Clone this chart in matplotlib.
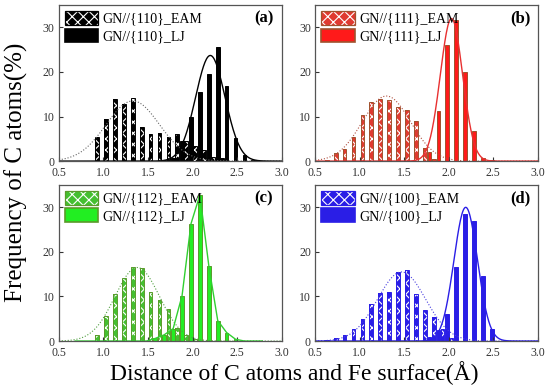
import numpy as np
import matplotlib
matplotlib.use('Agg')
import matplotlib.pyplot as plt
from matplotlib.patches import Patch
from matplotlib.legend_handler import HandlerTuple

plt.rcParams['font.family'] = ['Liberation Serif', 'DejaVu Serif']
plt.rcParams['hatch.linewidth'] = 0.8

# left edge of each 0.1 A bin
bins = [0.6, 0.7, 0.8, 0.9, 1.0, 1.1, 1.2, 1.3, 1.4, 1.5, 1.6,
        1.7, 1.8, 1.9, 2.0, 2.1, 2.2, 2.3, 2.4, 2.5, 2.6, 2.7]

# frequency (%) per bin
eam_110 = [0, 0, 0, 5.5, 9.5, 14.0, 12.8, 14.1, 7.7, 6.0, 6.4,
           5.3, 6.0, 4.5, 3.5, 2.6, 1.0, 0.6, 0, 0, 0, 0]
lj_110 = [0, 0, 0, 0, 0, 0, 0, 0, 0, 0, 0.2,
          0.8, 4.4, 10.0, 15.6, 19.6, 25.6, 16.8, 5.1, 1.3, 0.2, 0]
eam_111 = [0.3, 1.8, 2.7, 5.5, 10.3, 13.2, 13.9, 13.6, 12.1, 11.4, 9.1,
           2.9, 0.4, 0, 0, 0, 0, 0, 0, 0, 0, 0]
lj_111 = [0, 0, 0, 0, 0, 0, 0, 0, 0, 0, 0,
          2.0, 11.3, 26.0, 31.7, 20.0, 6.7, 0.8, 0.2, 0, 0, 0]
eam_112 = [0, 0, 0, 1.4, 5.7, 10.5, 14.2, 16.7, 16.3, 11.0, 9.3,
           7.2, 2.9, 1.3, 0.5, 0, 0, 0, 0, 0, 0, 0]
lj_112 = [0, 0, 0, 0, 0, 0, 0, 0, 0, 0.6, 1.4,
          2.8, 10.2, 26.3, 32.8, 16.9, 4.6, 1.9, 0.4, 0, 0, 0]
eam_100 = [0.3, 0.7, 1.3, 2.6, 5.0, 8.2, 10.8, 11.1, 15.4, 16.0, 10.6,
           6.9, 5.4, 2.8, 0.6, 0, 0, 0, 0, 0, 0, 0]
lj_100 = [0, 0, 0, 0, 0, 0, 0, 0, 0, 0, 0,
          1.0, 2.4, 6.1, 16.6, 28.4, 27.0, 14.7, 2.6, 0, 0, 0]

# gaussian fits (center, sigma, peak)
fit_eam = {'110': (1.33, 0.30, 13.5), '111': (1.30, 0.27, 14.6),
           '112': (1.38, 0.25, 16.5), '100': (1.47, 0.27, 15.5)}
fit_lj = {'110': (2.20, 0.165, 23.7), '111': (2.03, 0.125, 32.0),
          '112': None, '100': (2.19, 0.132, 30.0)}

panels = [
    ('110', '(a)', eam_110, lj_110, '#000000', '#000000', '#000000', '#000000', '#666666'),
    ('111', '(b)', eam_111, lj_111, '#e03a30', '#ff1a1a', '#a0522d', '#e83030', '#b05040'),
    ('112', '(c)', eam_112, lj_112, '#44c030', '#22ee22', '#5a9a2a', '#30d030', '#50a040'),
    ('100', '(d)', eam_100, lj_100, '#2a1ee6', '#2a1ee6', '#2a1ee6', '#2a1ee6', '#4a40e0'),
]

positions = [[0.107, 0.589], [0.573, 0.589], [0.107, 0.130], [0.573, 0.130]]

fig = plt.figure(figsize=(5.5, 3.92), dpi=100)
bw = 0.042
xb = np.array(bins)
xs = np.linspace(0.5, 3.0, 300)

for (name, tag, eam, lj, c_eam, c_lj, c_edge, c_line, c_dot), pos in zip(panels, positions):
    ax = fig.add_axes([pos[0], pos[1], 0.405, 0.398])
    # hatched EAM bars: fill + white hatch, then outline on top
    ax.bar(xb + 0.03, eam, width=bw, color=c_eam, edgecolor='white',
           hatch='xxx', linewidth=0)
    ax.bar(xb + 0.03, eam, width=bw, fill=False, edgecolor=c_edge, linewidth=0.7)
    ax.bar(xb + 0.083, lj, width=bw, color=c_lj, edgecolor=c_edge, linewidth=0.7)

    xc, s, a = fit_eam[name]
    ax.plot(xs, a * np.exp(-(xs - xc) ** 2 / (2 * s ** 2)), ':', color=c_dot, lw=0.8)
    if fit_lj[name] is None:
        ax.plot(xb + 0.083, lj, '-', color=c_line, lw=1.0)
    else:
        xc, s, a = fit_lj[name]
        ax.plot(xs, a * np.exp(-(xs - xc) ** 2 / (2 * s ** 2)), '-', color=c_line, lw=1.0)

    ax.set_xlim(0.5, 3.0)
    ax.set_ylim(0, 35)
    ax.set_xticks([0.5, 1.0, 1.5, 2.0, 2.5, 3.0])
    ax.set_yticks([0, 10, 20, 30])
    ax.tick_params(direction='in', length=3, labelsize=8.5, colors='#333333')
    ax.tick_params(axis='x', pad=4.5)
    ax.tick_params(axis='y', pad=3)
    for sp in ax.spines.values():
        sp.set_color('#555555')
        sp.set_linewidth(0.9)

    hf = Patch(facecolor=c_eam, edgecolor='white', hatch='xxx', linewidth=0)
    he = Patch(fill=False, edgecolor=c_edge, linewidth=0.9)
    hl = Patch(facecolor=c_lj, edgecolor=c_edge, linewidth=1.2)
    ax.legend([(hf, he), hl], ['GN//{%s}_EAM' % name, 'GN//{%s}_LJ' % name],
              handler_map={tuple: HandlerTuple(ndivide=1, pad=0)},
              loc='upper left', bbox_to_anchor=(0.0, 1.0), frameon=False,
              fontsize=10, handlelength=2.4, handleheight=1.1,
              handletextpad=0.3, labelspacing=0.2, borderaxespad=0.25,
              borderpad=0.2)
    ax.text(0.92, 0.915, tag, transform=ax.transAxes, ha='center', va='center',
            fontsize=12, fontweight='bold')

fig.text(0.03, 0.56, 'Frequency of C atoms(%)', rotation=90, ha='center',
         va='center', fontsize=18)
fig.text(0.535, 0.048, 'Distance of C atoms and Fe surface(Å)', ha='center',
         va='center', fontsize=17)

fig.savefig('out.png', dpi=100)
